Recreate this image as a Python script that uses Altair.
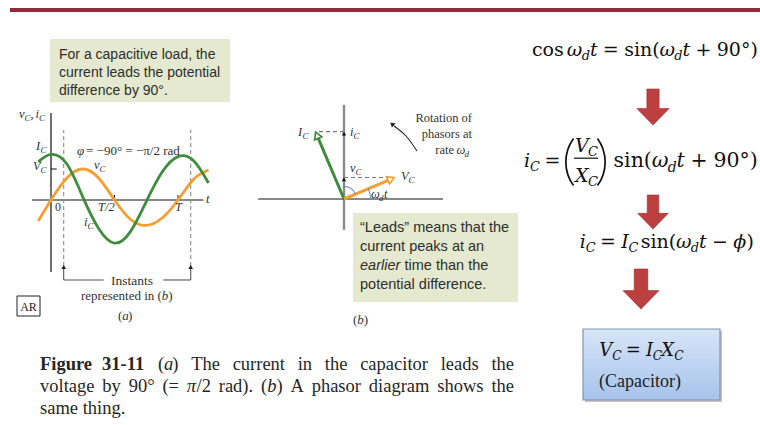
import math
import altair as alt
import pandas as pd

W, H = 760, 425

# ---------------------------------------------------------------- values
# (a) capacitor voltage and current, read at eighth-period steps
#     (t in periods T, amplitudes in units of the voltage amplitude V_C)
t_period = [-0.10, 0.0, 0.125, 0.25, 0.375, 0.5, 0.625, 0.75, 0.875, 1.0, 1.125, 1.24]
v_c = [-0.68, 0.0, 0.71, 1.0, 0.71, 0.0, -0.62, -0.82, -0.58, 0.0, 0.68, 0.97]
i_c = [1.23, 1.47, 1.16, 0.10, -0.92, -1.39, -1.02, -0.05, 0.90, 1.40, 1.26, 0.55]
amp_levels = [1.47, 1.0]          # I_C and V_C marks on the vertical axis
tick_t = [0.5, 1.0]               # T/2 and T
tick_labels = ["T/2", "T"]
instants_t = [0.1, 1.1]           # instants represented in (b)

# (b) phasors at the instant omega_d t
phasor = ["I", "V"]
phasor_mag = [1.33, 1.0]
phasor_deg = [113.0, 23.0]
omega_t_deg = 23.0

# ---------------------------------------------------------------- style
ORANGE = "#f0a033"
GREEN = "#3f8c3f"
INK = "#262626"
LABEL = "#333333"
BOX_GREEN = "#e4e9cf"
ARROW_RED = "#bd4040"
BAR_RED = "#8f2b3b"

FONTS = {
    "sans": ("Liberation Sans", "normal", "normal"),
    "sans_i": ("Liberation Sans", "italic", "normal"),
    "serif": ("Liberation Serif", "normal", "normal"),
    "serif_i": ("Liberation Serif", "italic", "normal"),
    "serif_b": ("Liberation Serif", "normal", "bold"),
    "math": ("DejaVu Serif", "normal", "normal"),
    "math_i": ("DejaVu Serif", "italic", "normal"),
}

# panel frames: origin pixel and pixels per data unit
A_X0, A_Y0, A_PX_T, A_PX_U = 51, 200, 127, 31
B_X0, B_Y0, B_PX = 344, 199, 55


def xdom(x0, ppu):
    return [-x0 / ppu, (W - x0) / ppu]


def ydom(y0, ppu):
    return [(y0 - H) / ppu, y0 / ppu]


XA = alt.Scale(domain=xdom(A_X0, A_PX_T), nice=False, zero=False)
YA = alt.Scale(domain=ydom(A_Y0, A_PX_U), nice=False, zero=False)
XB = alt.Scale(domain=xdom(B_X0, B_PX), nice=False, zero=False)
YB = alt.Scale(domain=ydom(B_Y0, B_PX), nice=False, zero=False)


def enc(f, ch, scale):
    if ch == "x":
        return alt.X(f, type="quantitative", scale=scale, axis=None)
    return alt.Y(f, type="quantitative", scale=scale, axis=None)


def pxx(f="x"):
    return alt.X(f, type="quantitative", scale=None, axis=None)


def pxy(f="y"):
    return alt.Y(f, type="quantitative", scale=None, axis=None)


layers = []

# ---------------------------------------------------------------- page furniture
def rect(x, x2, y, y2, **mark):
    df = pd.DataFrame({"x": [x], "x2": [x2], "y": [y], "y2": [y2]})
    return alt.Chart(df).mark_rect(**mark).encode(
        x=pxx(), x2="x2:Q", y=pxy(), y2="y2:Q")


layers.append(rect(10, 760, 8, 12, color=BAR_RED))
layers.append(rect(50, 230, 39, 102, color=BOX_GREEN))
layers.append(rect(353, 518, 213, 302, color=BOX_GREEN))
layers.append(rect(585, 722, 331, 402, color="#c4c4c4"))
layers.append(rect(583, 720, 329, 400,
                   fill={"gradient": "linear", "x1": 0, "x2": 0, "y1": 0, "y2": 1,
                         "stops": [{"offset": 0, "color": "#d7e5f8"},
                                   {"offset": 1, "color": "#a7c3ec"}]},
                   stroke="#8194ae", strokeWidth=1.2))
layers.append(rect(17, 40, 296, 316, fill="white", stroke="#222", strokeWidth=1))

ARROW_PATH = "M-0.34,-1L0.34,-1L0.34,0.08L0.9,0.08L0,1L-0.9,0.08L-0.34,0.08Z"
arrows = pd.DataFrame({"x": [653, 653, 641], "y": [107, 212, 289], "h": [36, 34, 40]})
arrows["size"] = arrows["h"] ** 2
layers.append(alt.Chart(arrows).mark_point(
    shape=ARROW_PATH, filled=True, fill=ARROW_RED, stroke="#9a2d2d",
    strokeWidth=0.6, opacity=1).encode(
    x=pxx(), y=pxy(), size=alt.Size("size:Q", scale=None, legend=None)))

# ---------------------------------------------------------------- panel (a)
curves = pd.DataFrame({"t": t_period, "v": v_c, "i": i_c})
axes_a = pd.DataFrame({"x": [0, -0.15], "x2": [0, 1.2], "y": [-2.32, 0], "y2": [2.81, 0]})
layers.append(alt.Chart(axes_a).mark_rule(color="#111", strokeWidth=1.2).encode(
    x=enc("x", "x", XA), x2="x2:Q", y=enc("y", "y", YA), y2="y2:Q"))
layers.append(alt.Chart(pd.DataFrame({"a": amp_levels})).transform_calculate(
    x0="0", x1="0.045").mark_rule(color="#111", strokeWidth=1).encode(
    x=enc("x0", "x", XA), x2="x1:Q", y=enc("a", "y", YA)))
layers.append(alt.Chart(pd.DataFrame({"t": tick_t})).transform_calculate(
    y0="0", y1="0.16").mark_rule(color="#111", strokeWidth=1).encode(
    x=enc("t", "x", XA), y=enc("y0", "y", YA), y2="y1:Q"))

inst = alt.Chart(pd.DataFrame({"t": instants_t}))
layers.append(inst.transform_calculate(lo="-2.13", hi="2.26").mark_rule(
    color="#8a8a8a", strokeWidth=1.1, strokeDash=[4, 3]).encode(
    x=enc("t", "x", XA), y=enc("lo", "y", YA), y2="hi:Q"))
layers.append(inst.transform_calculate(lo="-2.58", hi="-2.13").mark_rule(
    color="#555", strokeWidth=1.1).encode(
    x=enc("t", "x", XA), y=enc("lo", "y", YA), y2="hi:Q"))
layers.append(inst.transform_calculate(y="-2.16").mark_point(
    shape="triangle-up", filled=True, color="#222", size=22, opacity=1).encode(
    x=enc("t", "x", XA), y=enc("y", "y", YA)))
bracket = pd.DataFrame({"x": [instants_t[0], 0.885], "x2": [0.415, instants_t[1]],
                        "y": [-2.58, -2.58]})
layers.append(alt.Chart(bracket).mark_rule(color="#555", strokeWidth=1.1).encode(
    x=enc("x", "x", XA), x2="x2:Q", y=enc("y", "y", YA)))

layers.append(alt.Chart(curves).mark_line(
    color=ORANGE, strokeWidth=2.8, interpolate="natural").encode(
    x=enc("t", "x", XA), y=enc("v", "y", YA)))
layers.append(alt.Chart(curves).mark_line(
    color=GREEN, strokeWidth=2.8, interpolate="natural").encode(
    x=enc("t", "x", XA), y=enc("i", "y", YA)))

# ---------------------------------------------------------------- panel (b)
layers.append(alt.Chart(pd.DataFrame({"x": [0], "y": [-0.56], "y2": [1.71]})).mark_rule(
    color="#8a8a8a", strokeWidth=2.4).encode(
    x=enc("x", "x", XB), y=enc("y", "y", YB), y2="y2:Q"))
layers.append(alt.Chart(pd.DataFrame({"x": [-1.56], "x2": [1.8], "y": [0]})).mark_rule(
    color="#111", strokeWidth=1).encode(
    x=enc("x", "x", XB), x2="x2:Q", y=enc("y", "y", YB)))

ph = alt.Chart(pd.DataFrame({"name": phasor, "mag": phasor_mag, "deg": phasor_deg})).transform_calculate(
    zero="0",
    px="datum.mag*cos(datum.deg*PI/180)",
    py="datum.mag*sin(datum.deg*PI/180)",
    hx="(datum.mag-0.07)*cos(datum.deg*PI/180)",
    hy="(datum.mag-0.07)*sin(datum.deg*PI/180)",
    tip="datum.mag*sin(datum.deg*PI/180)-0.035",
    rot="(450-datum.deg)%360",
)
ph_scale = alt.Scale(domain=phasor, range=[GREEN, ORANGE])
layers.append(ph.mark_rule(color="#7a7a7a", strokeWidth=1.2, strokeDash=[4, 3]).encode(
    x=enc("zero", "x", XB), x2="px:Q", y=enc("py", "y", YB)))
layers.append(ph.mark_point(shape="triangle-up", filled=True, color="#111", size=18,
                            opacity=1).encode(
    x=enc("zero", "x", XB), y=enc("tip", "y", YB)))
layers.append(ph.mark_rule(strokeWidth=3).encode(
    x=enc("zero", "x", XB), y=enc("zero", "y", YB), x2="hx:Q", y2="hy:Q",
    color=alt.Color("name:N", scale=ph_scale, legend=None)))
layers.append(ph.mark_point(shape="triangle-up", filled=True, fill="white", size=60,
                            strokeWidth=1.7, opacity=1).encode(
    x=enc("hx", "x", XB), y=enc("hy", "y", YB),
    stroke=alt.Stroke("name:N", scale=ph_scale, legend=None),
    angle=alt.Angle("rot:Q", scale=None)))

origin_b = pd.DataFrame({"x": [B_X0], "y": [B_Y0]})
wt = math.radians(90 - omega_t_deg)
layers.append(alt.Chart(origin_b).mark_arc(
    radius=27, radius2=26, theta=wt, theta2=math.pi / 2, color="#5b86c5").encode(
    x=pxx(), y=pxy()))
layers.append(alt.Chart(origin_b).mark_arc(
    radius=13, radius2=12, theta=0, theta2=wt, color="#5b86c5").encode(
    x=pxx(), y=pxy()))

# rotation arrow
rot_path = pd.DataFrame({"x": [417, 406, 394], "y": [151, 136, 126], "k": [0, 1, 2]})
layers.append(alt.Chart(rot_path).mark_line(
    color="#222", strokeWidth=1.1, interpolate="natural").encode(
    x=pxx(), y=pxy(), order="k:Q"))
layers.append(alt.Chart(pd.DataFrame({"x": [392], "y": [124]})).mark_point(
    shape="triangle-up", filled=True, color="#222", size=30, angle=312, opacity=1).encode(
    x=pxx(), y=pxy()))

# parentheses and fraction bar of the second equation
PR = 41
PH = math.radians(36)
paren = pd.DataFrame({"x": [565 + PR, 606 - PR], "y": [162, 162],
                      "t0": [1.5 * math.pi - PH, 0.5 * math.pi - PH],
                      "t1": [1.5 * math.pi + PH, 0.5 * math.pi + PH]})
layers.append(alt.Chart(paren).mark_arc(radius=PR, radius2=PR - 1.7, color="#111").encode(
    x=pxx(), y=pxy(), theta=alt.Theta("t0:Q", scale=None), theta2="t1:Q"))
layers.append(rect(574, 598, 157.6, 158.8, color="#111"))

# ---------------------------------------------------------------- text
texts = []


def put(text, x, y, font="serif_i", size=12.5, color=LABEL, align="left"):
    texts.append(dict(text=text, x=x, y=y, font=font, size=size, color=color, align=align))


# Times-metric advance widths (em) for run placement
TMW = {" ": .25, "(": .333, ")": .333, "-": .333, ".": .25, ",": .25, "=": .564, "°": .4,
       "/": .278, "A": .722, "F": .611, "T": .611, "a": .444, "b": .5, "c": .444, "d": .5,
       "e": .444, "g": .5, "h": .5, "i": .278, "l": .278, "m": .778, "n": .5, "o": .5,
       "p": .5, "r": .333, "s": .389, "t": .278, "u": .5, "v": .5, "w": .722, "y": .5,
       "φ": .55, "π": .52}


def tm(s, size):
    return sum(TMW.get(c, .5) for c in s) * size


def runs(parts, x, y, size, color=LABEL):
    for txt, font in parts:
        lead = len(txt) - len(txt.lstrip(" "))
        put(txt.strip(" "), x + tm(" " * lead, size), y, font, size, color)
        x += tm(txt, size)


def justify(words, x0, x1, y, size, color=INK):
    widths = [sum(tm(t, size) for t, _ in w) for w in words]
    gap = (x1 - x0 - sum(widths)) / (len(words) - 1)
    x = x0
    for w, wd in zip(words, widths):
        runs(w, x, y, size, color)
        x += wd + gap


# DejaVu Serif advance widths (em) for the equations
DVW = {"c": .56, "o": .60, "s": .51, "i": .32, "n": .64, "(": .39, ")": .39, "9": .64,
       "0": .64, "°": .50, "t": .40, "d": .64, "ω": .78, "V": .72, "X": .72, "I": .37,
       "C": .70, "ϕ": .70, "=": .84, "+": .84, "−": .84}


def dv(s, size):
    return sum(DVW.get(c, .6) for c in s) * size


def math_line(pieces, base, size, left=None, right=None, center=None, color="#111"):
    sub = size * 0.68

    def wid(p):
        txt, kind = p
        if kind == "s":
            return dv(txt, sub)
        if kind == "o":
            return dv(txt, size) + 0.56 * size
        if kind == "g":
            return 0.17 * size
        return dv(txt, size)

    total = sum(wid(p) for p in pieces)
    if left is not None:
        x = left
    elif right is not None:
        x = right - total
    else:
        x = center - total / 2
    for p in pieces:
        txt, kind = p
        if kind == "s":
            put(txt, x, base + 0.22 * size, "math_i", sub, color)
        elif kind == "o":
            put(txt, x + 0.28 * size, base, "math", size, color)
        elif kind == "i":
            put(txt, x, base, "math_i", size, color)
        elif kind == "r":
            put(txt, x, base, "math", size, color)
        x += wid(p)


# green notes
NOTE = "#2e2e2e"
for k, line in enumerate(["For a capacitive load, the", "current leads the potential",
                          "difference by 90°."]):
    put(line, 59, 59 + 18 * k, "sans", 14, NOTE)
put("“Leads” means that the", 360, 232, "sans", 14.5, NOTE)
put("current peaks at an", 360, 251, "sans", 14.5, NOTE)
put("earlier", 360, 270, "sans_i", 14.5, NOTE)
put("time than the", 404.5, 270, "sans", 14.5, NOTE)
put("potential difference.", 360, 289, "sans", 14.5, NOTE)

# panel (a) labels
put("v", 19, 118); put("C", 24.5, 121, size=9); put(",", 30.5, 118, "serif")
put("i", 35.5, 118); put("C", 39, 121, size=9)
put("I", 36, 150); put("C", 40.5, 153, size=9)
put("V", 33, 170); put("C", 40.5, 173, size=9)
put("v", 94, 169); put("C", 99.5, 172, size=9)
put("i", 84, 226); put("C", 87.5, 229, size=9)
put("0", 55, 211, "serif", 12)
put(tick_labels[0], 98, 211)
put(tick_labels[1], 175, 211)
put("t", 206, 203)
put("φ", 77, 155, "serif_i", 13)
put("= −90° = −π/2 rad", 86, 155, "serif", 13)
put("Instants", 132, 285, "serif", 13.5, LABEL, "center")
runs([("represented in (", "serif"), ("b", "serif_i"), (")", "serif")], 81, 300, 13)
runs([("(", "serif"), ("a", "serif_i"), (")", "serif")], 118, 320, 13)
put("AR", 28.5, 310.5, "serif", 12, "#222", "center")

# panel (b) labels
put("I", 298, 136); put("C", 302.5, 139, size=9)
put("i", 350, 136); put("C", 353.5, 139, size=9)
put("v", 350, 172); put("C", 355.5, 175, size=9)
put("V", 401, 180); put("C", 408.5, 183, size=9)
put("ω", 371, 198); put("d", 379, 201, size=9); put("t", 384, 198)
put("Rotation of", 472, 122, "serif", 12.5, LABEL, "right")
put("phasors at", 472, 138, "serif", 12.5, LABEL, "right")
put("rate", 454, 154, "serif", 12.5, LABEL, "right")
put("ω", 456.5, 154); put("d", 464.5, 157, size=9)
runs([("(", "serif"), ("b", "serif_i"), (")", "serif")], 353, 324, 13)

# caption
cap = [
    [[("Figure", "serif_b")], [("31-11", "serif_b")], [("(", "serif"), ("a", "serif_i"), (")", "serif")],
     [("The", "serif")], [("current", "serif")], [("in", "serif")], [("the", "serif")],
     [("capacitor", "serif")], [("leads", "serif")], [("the", "serif")]],
    [[("voltage", "serif")], [("by", "serif")], [("90°", "serif")], [("(=", "serif")],
     [("π", "serif_i"), ("/2", "serif")], [("rad).", "serif")],
     [("(", "serif"), ("b", "serif_i"), (")", "serif")], [("A", "serif")], [("phasor", "serif")],
     [("diagram", "serif")], [("shows", "serif")], [("the", "serif")]],
]
justify(cap[0], 40, 514, 370, 18.5)
justify(cap[1], 40, 514, 392, 18.5)
put("same thing.", 40, 414, "serif", 18.5, INK)

# equations
math_line([("cos", "r"), ("", "g"), ("ω", "i"), ("d", "s"), ("t", "i"), ("=", "o"),
           ("sin(", "r"), ("ω", "i"), ("d", "s"), ("t", "i"), ("+", "o"), ("90°)", "r")],
          56, 19, right=758)
math_line([("i", "i"), ("C", "s"), ("=", "o")], 167, 19, left=524)
put("V", 575, 152, "math_i", 19, "#111"); put("C", 588, 156, "math_i", 13, "#111")
put("X", 575, 182, "math_i", 19, "#111"); put("C", 588, 186, "math_i", 13, "#111")
math_line([("sin(", "r"), ("ω", "i"), ("d", "s"), ("t", "i"), ("+", "o"), ("90°)", "r")],
          167, 20.5, right=758)
math_line([("i", "i"), ("C", "s"), ("=", "o"), ("I", "i"), ("C", "s"), ("", "g"),
           ("sin(", "r"), ("ω", "i"), ("d", "s"), ("t", "i"), ("−", "o"), ("ϕ", "i"),
           (")", "r")], 248, 19, right=754)
math_line([("V", "i"), ("C", "s"), ("=", "o"), ("I", "i"), ("C", "s"), ("X", "i"), ("C", "s")],
          356, 18, center=641)
put("(Capacitor)", 640, 387, "serif", 18, "#222", "center")

tdf = pd.DataFrame(texts)
for (font, color, align), g in tdf.groupby(["font", "color", "align"]):
    fam, style, weight = FONTS[font]
    layers.append(alt.Chart(g.reset_index(drop=True)).mark_text(
        font=fam, fontStyle=style, fontWeight=weight, color=color, align=align,
        baseline="alphabetic").encode(
        x=pxx(), y=pxy(), text="text:N", size=alt.Size("size:Q", scale=None, legend=None)))

chart = alt.layer(*layers).resolve_scale(
    x="independent", y="independent"
).properties(
    width=W, height=H, padding=0, autosize="none", background="white"
).configure_view(stroke=None)

chart.save("out.html", embed_options={"renderer": "svg", "actions": False})
